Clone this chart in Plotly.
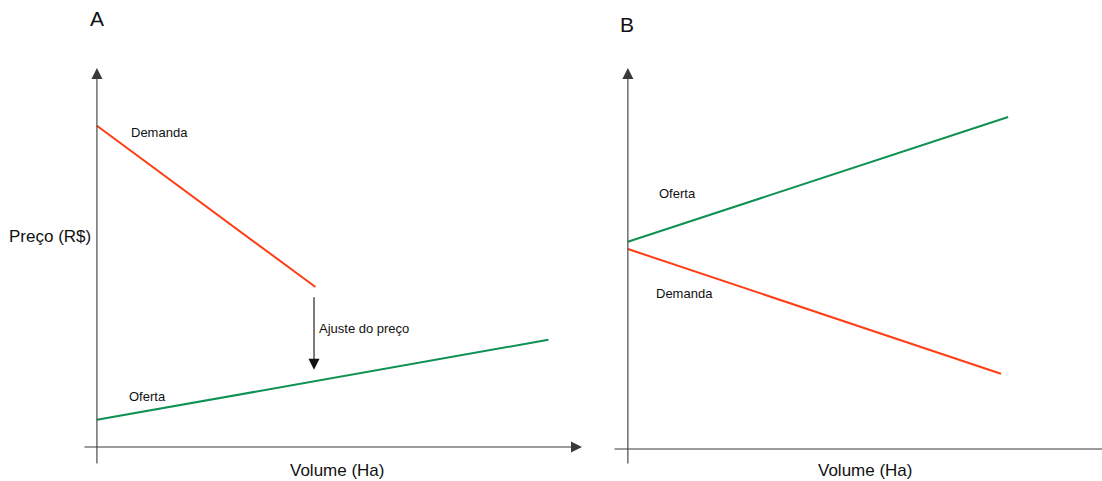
import plotly.graph_objects as go

W, H = 1102, 481

# ---- data (abstract units: Volume, Price) ----
demand_a_vol = [0.0, 4.55]
demand_a_price = [8.03, 4.0]
supply_a_vol = [0.0, 9.4]
supply_a_price = [0.68, 2.68]
adjust_vol = 4.52
adjust_from = 3.78
adjust_to = 1.93

supply_b_vol = [0.0, 7.92]
supply_b_price = [5.18, 8.3]
demand_b_vol = [0.0, 7.77]
demand_b_price = [5.0, 1.88]

RED = "#FF3D14"
GREEN = "#0E9152"
AX = "#3a3a3a"
FONT = "Liberation Sans, Arial, Helvetica, sans-serif"

fig = go.Figure()

fig.add_trace(go.Scatter(x=demand_a_vol, y=demand_a_price, mode="lines",
                         line=dict(color=RED, width=2), xaxis="x", yaxis="y"))
fig.add_trace(go.Scatter(x=supply_a_vol, y=supply_a_price, mode="lines",
                         line=dict(color=GREEN, width=2), xaxis="x", yaxis="y"))
fig.add_trace(go.Scatter(x=supply_b_vol, y=supply_b_price, mode="lines",
                         line=dict(color=GREEN, width=2), xaxis="x2", yaxis="y2"))
fig.add_trace(go.Scatter(x=demand_b_vol, y=demand_b_price, mode="lines",
                         line=dict(color=RED, width=2), xaxis="x2", yaxis="y2"))

ydom = [1 - 465 / H, 1 - 68 / H]
hidden = dict(visible=False, showgrid=False, zeroline=False, fixedrange=True)
fig.update_layout(
    width=W, height=H,
    margin=dict(l=0, r=0, t=0, b=0),
    paper_bgcolor="white", plot_bgcolor="white",
    showlegend=False,
    font=dict(family=FONT, color="#111"),
    xaxis=dict(domain=[83 / W, 582 / W], range=[-0.29, 10.1], anchor="y", **hidden),
    yaxis=dict(domain=ydom, range=[-0.45, 9.475], anchor="x", **hidden),
    xaxis2=dict(domain=[613 / W, 1.0], range=[-0.31, 9.875], anchor="y2", **hidden),
    yaxis2=dict(domain=ydom, range=[-0.4, 9.525], anchor="x2", **hidden),
)

ann = []
arrow = dict(showarrow=True, arrowhead=2, arrowsize=2.0, arrowwidth=1.1, text="")
# axes A
ann.append(dict(x=0, y=9.475, ax=0, ay=-0.45, xref="x", yref="y", axref="x", ayref="y",
                arrowcolor=AX, **arrow))
ann.append(dict(x=10.1, y=0, ax=-0.29, ay=0, xref="x", yref="y", axref="x", ayref="y",
                arrowcolor=AX, **arrow))
# adjust arrow
ann.append(dict(x=adjust_vol, y=adjust_to, ax=adjust_vol, ay=adjust_from, xref="x", yref="y",
                axref="x", ayref="y", arrowcolor="#111", **arrow))
# axes B
ann.append(dict(x=0, y=9.525, ax=0, ay=-0.4, xref="x2", yref="y2", axref="x2", ayref="y2",
                arrowcolor=AX, **arrow))
ann.append(dict(x=9.875, y=0, ax=-0.31, ay=0, xref="x2", yref="y2", axref="x2", ayref="y2",
                showarrow=True, arrowhead=0, arrowwidth=1.1, arrowcolor=AX, text=""))

small = dict(size=13, color="#111", family=FONT)
c = dict(showarrow=False, xanchor="center", yanchor="middle")
ann += [
    dict(x=1.31, y=7.875, xref="x", yref="y", text="Demanda", font=small, **c),
    dict(x=1.06, y=1.275, xref="x", yref="y", text="Oferta", font=small, **c),
    dict(x=4.58, y=2.975, xref="x", yref="y", text="Ajuste do preço", showarrow=False,
         xanchor="left", yanchor="middle", font=small),
    dict(x=1.17, y=3.9, xref="x2", yref="y2", text="Demanda", font=small, **c),
    dict(x=1.04, y=6.4, xref="x2", yref="y2", text="Oferta", font=small, **c),
]
big = dict(size=17, color="#111", family=FONT)
letter = dict(size=21, color="#111", family=FONT)
ann += [
    dict(x=97 / W, y=1 - 18 / H, xref="paper", yref="paper", text="A", font=letter, **c),
    dict(x=627 / W, y=1 - 25 / H, xref="paper", yref="paper", text="B", font=letter, **c),
    dict(x=50 / W, y=1 - 236 / H, xref="paper", yref="paper", text="Preço (R$)", font=big, **c),
    dict(x=337 / W, y=1 - 470 / H, xref="paper", yref="paper", text="Volume (Ha)", font=big, **c),
    dict(x=865 / W, y=1 - 470 / H, xref="paper", yref="paper", text="Volume (Ha)", font=big, **c),
]
fig.update_layout(annotations=ann)

fig.write_html("out.html", config=dict(displayModeBar=False),
               post_script="document.body.style.margin='0';document.body.style.padding='0';")
